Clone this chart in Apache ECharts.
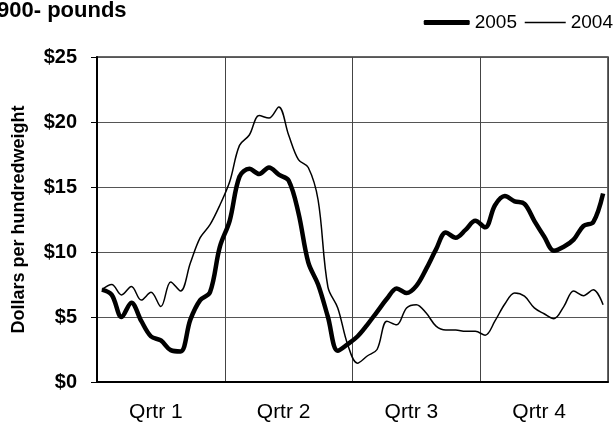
<!DOCTYPE html>
<html>
<head>
<meta charset="utf-8">
<script src="https://cdn.jsdelivr.net/npm/echarts@6/dist/echarts.min.js"></script>
<style>
html,body{margin:0;padding:0;background:#fff;}
#chart{width:616px;height:425px;}
</style>
</head>
<body>
<div id="chart"></div>
<script>
var titleText = "900- pounds";
var yAxisName = "Dollars per hundredweight";
var quarters = ["Qrtr 1", "Qrtr 2", "Qrtr 3", "Qrtr 4"];
var weeks = [];
for (var w = 1; w <= 52; w++) { weeks.push("W" + w); }
var yTicks = [0, 5, 10, 15, 20, 25];

var series2005 = [
  7.1, 6.7, 5.0, 6.1, 4.7, 3.5, 3.2, 2.45, 2.35, 4.8, 6.3, 6.9, 10.4,
  12.4, 15.8, 16.4, 16.0, 16.5, 15.95, 15.5, 13.0, 9.2, 7.5, 5.0, 2.4, 2.9,
  3.5, 4.4, 5.4, 6.4, 7.2, 6.85, 7.4, 8.7, 10.2, 11.5, 11.1, 11.7, 12.4,
  11.9, 13.6, 14.3, 13.9, 13.7, 12.4, 11.2, 10.1, 10.4, 10.95, 12.0, 12.3, 14.5
];
var series2004 = [
  7.1, 7.5, 6.7, 7.35, 6.3, 6.9, 5.8, 7.7, 7.0, 9.15, 11.1, 12.1, 13.6,
  15.4, 18.2, 19.0, 20.5, 20.3, 21.15, 19.0, 17.1, 16.5, 14.0, 7.3, 5.7, 2.9,
  1.45, 2.0, 2.5, 4.67, 4.4, 5.7, 5.95, 5.3, 4.3, 4.0, 4.0, 3.9, 3.9,
  3.6, 4.7, 6.0, 6.85, 6.6, 5.7, 5.25, 4.87, 5.8, 7.0, 6.64, 7.1, 5.95
];

var FONT = "'Liberation Sans', Arial, sans-serif";
var chart = echarts.init(document.getElementById('chart'), null, {renderer: 'canvas'});
chart.setOption({
  animation: false,
  backgroundColor: '#ffffff',
  title: {
    text: titleText,
    left: -3,
    top: 0,
    padding: 0,
    textStyle: {fontFamily: FONT, fontSize: 22, fontWeight: 'bold', color: '#000'}
  },
  legend: [
    {
      data: [{name: '2005', icon: 'roundRect', itemStyle: {color: '#000'}}],
      right: 99,
      top: 13,
      padding: 0,
      itemWidth: 46,
      itemHeight: 5,
      textStyle: {fontFamily: FONT, fontSize: 19, color: '#000'}
    },
    {
      data: [{name: '2004', icon: 'rect', itemStyle: {color: '#000'}}],
      right: 3,
      top: 13,
      padding: 0,
      itemWidth: 41,
      itemHeight: 1.5,
      textStyle: {fontFamily: FONT, fontSize: 19, color: '#000'}
    }
  ],
  grid: {
    left: 97, right: 8, top: 57, bottom: 43,
    show: true, borderColor: '#333', borderWidth: 1.5
  },
  xAxis: [
    {
      type: 'category',
      data: weeks,
      boundaryGap: true,
      show: false
    },
    {
      type: 'category',
      data: quarters,
      position: 'bottom',
      boundaryGap: true,
      axisLine: {show: true, lineStyle: {color: '#000', width: 2}},
      axisTick: {show: false},
      splitLine: {show: true, lineStyle: {color: '#444', width: 1}},
      axisLabel: {
        fontFamily: FONT, fontSize: 21, color: '#000', margin: 20,
        padding: [0, 10, 0, 0]
      }
    }
  ],
  yAxis: {
    type: 'value',
    min: yTicks[0],
    max: yTicks[yTicks.length - 1],
    interval: 5,
    name: yAxisName,
    nameLocation: 'middle',
    nameRotate: 90,
    nameGap: 69,
    nameTextStyle: {fontFamily: FONT, fontSize: 18, fontWeight: 'bold', color: '#000'},
    axisLine: {show: true, lineStyle: {color: '#000', width: 2}},
    axisTick: {show: true, length: 6, lineStyle: {color: '#000', width: 1}},
    splitLine: {show: true, lineStyle: {color: '#555', width: 1}},
    axisLabel: {
      fontFamily: FONT, fontSize: 20, fontWeight: 'bold', color: '#000', margin: 20,
      formatter: function (v) { return '$' + v; }
    }
  },
  series: [
    {
      name: '2005',
      type: 'line',
      xAxisIndex: 0,
      data: series2005,
      smooth: 0.35,
      symbol: 'none',
      lineStyle: {color: '#000', width: 4.5},
      itemStyle: {color: '#000'},
      z: 3
    },
    {
      name: '2004',
      type: 'line',
      xAxisIndex: 0,
      data: series2004,
      smooth: 0.35,
      symbol: 'none',
      lineStyle: {color: '#000', width: 1.5},
      itemStyle: {color: '#000'},
      z: 2
    }
  ]
});
</script>
</body>
</html>
